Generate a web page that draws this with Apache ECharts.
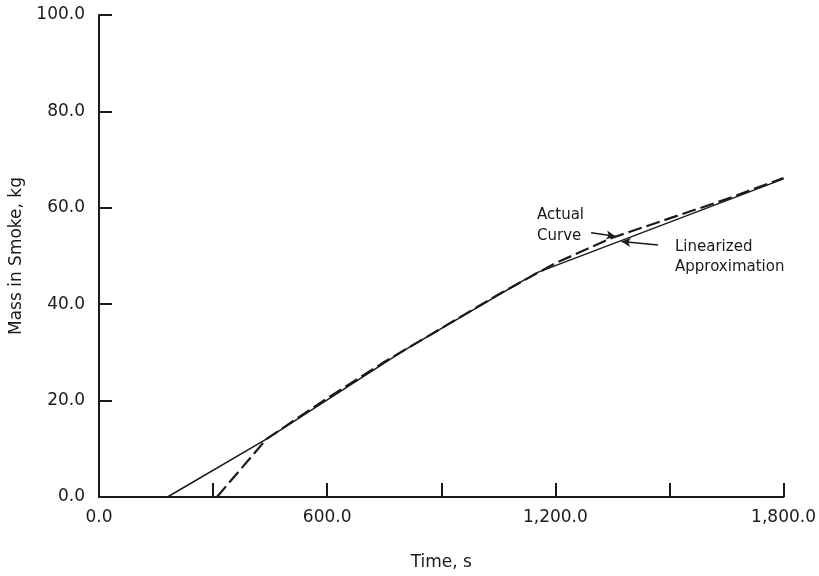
<!DOCTYPE html>
<html>
<head>
<meta charset="utf-8">
<script src="https://cdn.jsdelivr.net/npm/echarts@6/dist/echarts.min.js"></script>
<style>html,body{margin:0;padding:0;background:#fff}#c{width:819px;height:576px}</style>
</head>
<body>
<div id="c"></div>
<script>
// Actual curve (dashed)
const timeActual = [310, 440, 600, 750, 900, 1050, 1200, 1350, 1500, 1650, 1800];
const massActual = [0, 12, 20.5, 28, 35, 42, 48.5, 53.8, 57.8, 61.8, 66.2];
// Linearized approximation (solid)
const timeLinear = [180, 440, 800, 1150, 1800];
const massLinear = [0, 12, 30.3, 46.5, 66];
// Annotation arrows (data coordinates): [fromX, fromY, toX, toY]
const arrowActual = [1294, 54.8, 1358, 54.1];
const arrowLinear = [1470, 52.3, 1374, 53.0];
const xTicks = [0, 600, 1200, 1800];

const FONT = 'DejaVu Sans';
const INK = '#1a1a1a';

function fmt(v) {
  return v.toLocaleString('en-US', {minimumFractionDigits: 1, maximumFractionDigits: 1});
}

const chart = echarts.init(document.getElementById('c'), null, {renderer: 'canvas'});
chart.setOption({
  animation: false,
  backgroundColor: '#fff',
  grid: {left: 96, right: 29, top: 15, bottom: 79},
  xAxis: {
    type: 'value', min: 0, max: 1800, interval: 300,
    name: 'Time, s', nameLocation: 'middle', nameGap: 57,
    nameTextStyle: {fontFamily: FONT, fontSize: 17, color: INK},
    axisLine: {show: true, lineStyle: {color: INK, width: 2}},
    axisTick: {show: true, inside: true, length: 14, lineStyle: {color: INK, width: 2}},
    axisLabel: {
      fontFamily: FONT, fontSize: 17, color: INK, margin: 12,
      formatter: function (v) { return xTicks.indexOf(v) >= 0 ? fmt(v) : ''; }
    },
    splitLine: {show: false}
  },
  yAxis: {
    type: 'value', min: 0, max: 100, interval: 20,
    name: 'Mass in Smoke, kg', nameLocation: 'middle', nameGap: 74,
    nameTextStyle: {fontFamily: FONT, fontSize: 17, color: INK},
    axisLine: {show: true, lineStyle: {color: INK, width: 2}},
    axisTick: {show: true, inside: true, length: 13, lineStyle: {color: INK, width: 2}},
    axisLabel: {fontFamily: FONT, fontSize: 17, color: INK, margin: 14, formatter: fmt},
    splitLine: {show: false}
  },
  series: [
    {
      name: 'Actual Curve', type: 'line', symbol: 'none',
      data: timeActual.map((t, i) => [t, massActual[i]]),
      lineStyle: {color: INK, width: 2.2, type: [14, 5]}
    },
    {
      name: 'Linearized Approximation', type: 'line', symbol: 'none',
      data: timeLinear.map((t, i) => [t, massLinear[i]]),
      lineStyle: {color: INK, width: 1.5},
      markLine: {
        silent: true, symbol: ['none', 'arrow'], symbolSize: [7, 9],
        label: {show: false},
        lineStyle: {color: INK, width: 1.5, type: 'solid'},
        data: [
          [{coord: [arrowActual[0], arrowActual[1]]}, {coord: [arrowActual[2], arrowActual[3]]}],
          [{coord: [arrowLinear[0], arrowLinear[1]]}, {coord: [arrowLinear[2], arrowLinear[3]]}]
        ]
      }
    }
  ],
  graphic: [
    {type: 'text', left: 537, top: 205, style: {text: 'Actual\nCurve', font: '15px "DejaVu Sans"', fill: INK, lineHeight: 21}},
    {type: 'text', left: 675, top: 237, style: {text: 'Linearized\nApproximation', font: '15px "DejaVu Sans"', fill: INK, lineHeight: 20}}
  ]
});
</script>
</body>
</html>
